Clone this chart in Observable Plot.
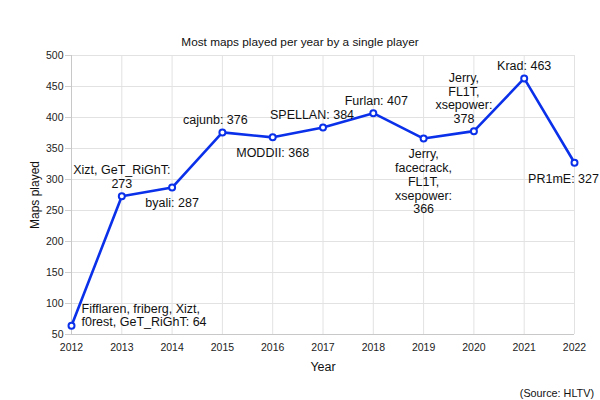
<!DOCTYPE html>
<html>
<head>
<meta charset="utf-8">
<script src="https://cdn.jsdelivr.net/npm/d3@7"></script>
<script src="https://cdn.jsdelivr.net/npm/@observablehq/plot@0.6"></script>
<style>
  body { margin: 0; background: #fff; font-family: "Liberation Sans", Arial, Helvetica, sans-serif; }
  #wrap { width: 600px; height: 400px; position: relative; }
  #title { padding-top: 34px; height: 16px; line-height: 16px; font-size: 11.8px; text-align: center; color: #111; }
  #source { padding-top: 5px; line-height: 16px; font-size: 10.8px; text-align: right; padding-right: 6px; color: #111; }
  svg { display: block; }
</style>
</head>
<body>
<div id="wrap">
  <div id="title">Most maps played per year by a single player</div>
  <div id="chart"></div>
  <div id="source">(Source: HLTV)</div>
</div>
<script>
const years = [2012, 2013, 2014, 2015, 2016, 2017, 2018, 2019, 2020, 2021, 2022];
const maps = [64, 273, 287, 376, 368, 384, 407, 366, 378, 463, 327];
const labels = [
  "Fifflaren, friberg, Xizt,\nf0rest, GeT_RiGhT: 64",
  "Xizt, GeT_RiGhT:\n273",
  "byali: 287",
  "cajunb: 376",
  "MODDII: 368",
  "SPELLAN: 384",
  "Furlan: 407",
  "Jerry,\nfacecrack,\nFL1T,\nxsepower:\n366",
  "Jerry,\nFL1T,\nxsepower:\n378",
  "Krad: 463",
  "PR1mE: 327"
];
const yTicks = [50, 100, 150, 200, 250, 300, 350, 400, 450, 500];
const yTitle = "Maps played";
const xTitle = "Year";

const data = years.map((year, i) => ({year, maps: maps[i], label: labels[i]}));

// label placement (style only)
const above = new Set([2013, 2015, 2017, 2018, 2020, 2021]);
const shiftX = {2015: -7, 2017: -11, 2018: 3, 2020: -10, 2022: -11};

const blue = "#0b30ea";
const font = "Liberation Sans, Arial, sans-serif";
const txt = {fontSize: 12.5, fill: "#111", lineHeight: 1.1, fontFamily: font};

const marks = [
  Plot.gridY(yTicks, {stroke: "#e2e2e2", strokeOpacity: 1}),
  Plot.gridX(years, {stroke: "#e2e2e2", strokeOpacity: 1}),
  Plot.axisY({ticks: yTicks, tickSize: 6, tickPadding: 2, stroke: "#cfcfcf", fontSize: 10.5, color: "#222", label: null}),
  Plot.axisX({ticks: years, tickFormat: "d", tickSize: 0, tickPadding: 9, fontSize: 10.5, color: "#222", label: null}),
  Plot.text([yTitle], {frameAnchor: "left", text: d => d, rotate: -90, dx: -36, textAnchor: "middle",
    lineAnchor: "middle", fontSize: 12, fill: "#111", fontFamily: font}),
  Plot.text([xTitle], {frameAnchor: "bottom", text: d => d, dy: 32, textAnchor: "middle",
    lineAnchor: "middle", fontSize: 12.5, fill: "#111", fontFamily: font}),
  Plot.ruleY([50], {stroke: "#c8c8c8"}),
  Plot.ruleX([2012], {stroke: "#c8c8c8"}),
  Plot.line(data, {x: "year", y: "maps", stroke: blue, strokeWidth: 2.6}),
  Plot.dot(data, {x: "year", y: "maps", r: 3, stroke: blue, strokeWidth: 2, fill: "white"})
];

for (const d of data) {
  if (d.year === 2012) {
    marks.push(Plot.text([d], {x: "year", y: "maps", text: "label",
      lineAnchor: "bottom", textAnchor: "start", dx: 10, dy: 0, ...txt, lineHeight: 1.0}));
    continue;
  }
  const isAbove = above.has(d.year);
  marks.push(Plot.text([d], {x: "year", y: "maps", text: "label",
    lineAnchor: isAbove ? "bottom" : "top", dy: isAbove ? -8 : 10, dx: shiftX[d.year] || 0, ...txt}));
}

const chart = Plot.plot({
  width: 600,
  height: 330,
  marginLeft: 71,
  marginRight: 26,
  marginTop: 5,
  marginBottom: 46,
  style: {fontFamily: font, background: "transparent", overflow: "visible"},
  x: {domain: [2012, 2022]},
  y: {domain: [50, 500]},
  marks
});
document.getElementById("chart").appendChild(chart);
</script>
</body>
</html>
